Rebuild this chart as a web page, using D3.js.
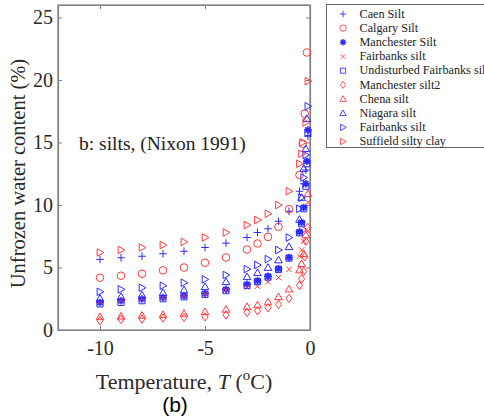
<!DOCTYPE html>
<html>
<head>
<meta charset="utf-8">
<script src="https://cdn.jsdelivr.net/npm/d3@7"></script>
<style>
  body { margin: 0; background: #fff; }
  svg text { font-family: "Liberation Serif", "Times New Roman", serif; }
</style>
</head>
<body>
<div id="chart"></div>
<script>
// DATA: temperature (deg C) and unfrozen water content (%) per soil
const caenT = [-10,-9,-8,-7,-6,-5,-4,-3,-2.5,-2,-1.5,-1,-0.5,-0.3,-0.2,-0.1];
const caenW = [5.65,5.78,5.9,6.1,6.3,6.6,6.95,7.4,7.8,8.1,8.7,9.5,11.1,11.7,12.8,15.5];

const calgaryT = [-10,-9,-8,-7,-6,-5,-4,-3,-2.5,-2,-1.5,-1,-0.5,-0.35,-0.25,-0.15];
const calgaryW = [4.18,4.34,4.5,4.77,5.0,5.38,5.8,6.44,6.92,7.45,8.25,9.66,12.4,14.9,17.3,22.2];

const manchesterT = [-10,-9,-8,-7,-6,-5,-4,-3,-2.5,-2,-1.5,-1,-0.5,-0.4,-0.3,-0.2,-0.15,-0.1];
const manchesterW = [2.2,2.34,2.48,2.6,2.74,2.93,3.25,3.65,3.94,4.3,4.9,5.8,7.85,8.6,9.8,11.7,13.5,16.0];

const fairbanksXT = [-10,-9,-8,-7,-6,-5,-4,-3,-2.5,-2,-1.5,-1,-0.5,-0.4,-0.3,-0.2,-0.1];
const fairbanksXW = [2.26,2.4,2.5,2.6,2.75,2.9,3.2,3.4,3.5,3.86,4.2,4.85,5.9,6.4,7.1,8.0,10.2];

const undisturbedT = [-10,-9,-8,-7,-6,-5,-4,-3,-2.5,-2,-1.5,-1,-0.5,-0.4,-0.3,-0.2,-0.15,-0.1];
const undisturbedW = [2.08,2.2,2.34,2.5,2.66,2.85,3.14,3.57,3.86,4.23,4.85,5.75,7.77,8.5,9.7,11.5,13.3,15.8];

const manchester2T = [-10,-9,-8,-7,-6,-5,-4,-3,-2.5,-2,-1.5,-1,-0.5,-0.4,-0.3,-0.25,-0.2,-0.1];
const manchester2W = [0.75,0.85,0.88,0.96,1.01,1.06,1.2,1.41,1.54,1.78,2.05,2.53,3.57,4.1,4.69,5.86,7.1,8.2];

const chenaT = [-10,-9,-8,-7,-6,-5,-4,-3,-2.5,-2,-1.5,-1,-0.5,-0.4,-0.3,-0.2,-0.1];
const chenaW = [1.06,1.1,1.17,1.22,1.33,1.46,1.65,1.86,2.0,2.24,2.66,3.27,4.8,5.3,6.1,7.6,10.9];

const niagaraT = [-10,-9,-8,-7,-6,-5,-4,-3,-2.5,-2,-1.5,-1,-0.5,-0.4,-0.3,-0.2,-0.15];
const niagaraW = [2.53,2.66,2.8,2.98,3.2,3.46,3.86,4.26,4.58,5.0,5.6,6.66,8.84,10.6,12.9,14.5,16.9];

const fairbanksTriT = [-10,-9,-8,-7,-6,-5,-4,-3,-2.5,-2,-1.5,-1,-0.5,-0.4,-0.3,-0.2,-0.1];
const fairbanksTriW = [3.06,3.25,3.38,3.54,3.78,4.05,4.4,4.87,5.2,5.67,6.4,7.4,9.7,10.6,12.2,14.0,17.9];

const suffieldT = [-10,-9,-8,-7,-6,-5,-4,-3,-2.5,-2,-1.5,-1,-0.5,-0.4,-0.35,-0.2,-0.1];
const suffieldW = [6.2,6.4,6.6,6.8,7.05,7.4,7.8,8.4,8.8,9.3,10.0,11.1,13.3,14.1,15.0,16.6,19.9];

const seriesNames = ["Caen Silt","Calgary Silt","Manchester Silt","Fairbanks silt",
  "Undisturbed Fairbanks silt","Manchester silt2","Chena silt","Niagara silt",
  "Fairbanks silt","Suffield silty clay"];
const seriesT = [caenT, calgaryT, manchesterT, fairbanksXT, undisturbedT,
  manchester2T, chenaT, niagaraT, fairbanksTriT, suffieldT];
const seriesW = [caenW, calgaryW, manchesterW, fairbanksXW, undisturbedW,
  manchester2W, chenaW, niagaraW, fairbanksTriW, suffieldW];
const seriesMarker = ["plus","circle","asterisk","cross","square","diamond",
  "triUp","triUp","triRight","triRight"];
const seriesColor = ["b","r","b","r","b","r","r","b","b","r"];

const xTicks = [-10, -5, 0];
const yTicks = [0, 5, 10, 15, 20, 25];

// 1: SVG
const W = 484, H = 420;
const svg = d3.select("#chart").append("svg")
  .attr("width", W).attr("height", H);

const serif = "'Liberation Serif', 'Times New Roman', serif";
const colors = { b: "#2b2bff", r: "#ff3b3b" };

const x = d3.scaleLinear().domain([-12, 0]).range([58, 310]);
const y = d3.scaleLinear().domain([0, 26]).range([330, 5]);

// marker path strings, centred at 0,0
function markerPath(type) {
  const r = 3.8;
  switch (type) {
    case "plus": return `M${-r},0H${r}M0,${-r}V${r}`;
    case "cross": { const a = r * 0.72; return `M${-a},${-a}L${a},${a}M${-a},${a}L${a},${-a}`; }
    case "asterisk": { const a = r * 0.7; return `M${-r},0H${r}M0,${-r}V${r}M${-a},${-a}L${a},${a}M${-a},${a}L${a},${-a}`; }
    case "circle": return d3.arc()({ innerRadius: 0, outerRadius: r, startAngle: 0, endAngle: 2 * Math.PI });
    case "square": { const a = r * 0.8; return `M${-a},${-a}H${a}V${a}H${-a}Z`; }
    case "diamond": return `M0,${-r * 1.1}L${r * 0.8},0L0,${r * 1.1}L${-r * 0.8},0Z`;
    case "triUp": return `M0,${-r}L${r},${r * 0.75}L${-r},${r * 0.75}Z`;
    case "triRight": return `M${r},0L${-r * 0.75},${-r}L${-r * 0.75},${r}Z`;
  }
}

// 2: AXES BOX
const axisColor = "#808080";
svg.append("rect")
  .attr("x", x(-12)).attr("y", y(26))
  .attr("width", x(0) - x(-12)).attr("height", y(0) - y(26))
  .attr("fill", "none").attr("stroke", axisColor).attr("stroke-width", 1.2);

const bottomAxis = svg.append("g")
  .attr("transform", `translate(0,${y(0)})`)
  .call(d3.axisBottom(x).tickValues(xTicks).tickSizeInner(-4).tickSizeOuter(0).tickPadding(11));
const topAxis = svg.append("g")
  .attr("transform", `translate(0,${y(26)})`)
  .call(d3.axisTop(x).tickValues(xTicks).tickSizeInner(-4).tickSizeOuter(0).tickFormat(""));
const leftAxis = svg.append("g")
  .attr("transform", `translate(${x(-12)},0)`)
  .call(d3.axisLeft(y).tickValues(yTicks).tickSizeInner(-4).tickSizeOuter(0).tickPadding(5));
const rightAxis = svg.append("g")
  .attr("transform", `translate(${x(0)},0)`)
  .call(d3.axisRight(y).tickValues(yTicks).tickSizeInner(-4).tickSizeOuter(0).tickFormat(""));

[bottomAxis, topAxis, leftAxis, rightAxis].forEach(g => {
  g.attr("font-family", null).attr("font-size", null);
  g.select(".domain").attr("stroke", axisColor).attr("stroke-width", 1.2);
  g.selectAll(".tick line").attr("stroke", axisColor);
  g.selectAll(".tick text")
    .attr("fill", "#2a2a2a")
    .style("font-family", serif)
    .style("font-size", "20px");
});
bottomAxis.selectAll(".tick text").text(d => d < 0 ? "-" + Math.abs(d) : d);

// 3: POINTS
seriesNames.forEach((name, i) => {
  const pts = seriesT[i].map((t, k) => ({ t: t, w: seriesW[i][k] }));
  svg.append("g")
    .selectAll("path")
    .data(pts)
    .enter()
    .append("path")
    .attr("d", markerPath(seriesMarker[i]))
    .attr("transform", d => `translate(${x(d.t)},${y(d.w)})`)
    .attr("fill", "none")
    .attr("stroke", colors[seriesColor[i]])
    .attr("stroke-width", seriesMarker[i] === "asterisk" ? 1.6 : 1);
});

// 4: LEGEND
const legend = svg.append("g");
legend.append("rect")
  .attr("x", 326.5).attr("y", 4.5).attr("width", 180).attr("height", 143)
  .attr("fill", "#fff").attr("stroke", "#666").attr("stroke-width", 1);
seriesNames.forEach((name, i) => {
  const ly = 14 + i * 14.17;
  legend.append("path")
    .attr("d", markerPath(seriesMarker[i]))
    .attr("transform", `translate(343,${ly}) scale(0.85)`)
    .attr("fill", "none")
    .attr("stroke", colors[seriesColor[i]])
    .attr("stroke-width", seriesMarker[i] === "asterisk" ? 1.6 : 1);
  legend.append("text")
    .attr("x", 359.5).attr("y", ly + 3.8)
    .attr("fill", "#222")
    .style("font-family", serif)
    .style("font-size", "12.2px")
    .text(name);
});

// 5: LABELS
svg.append("text")
  .attr("x", 79).attr("y", 150)
  .attr("fill", "#222")
  .style("font-family", serif)
  .style("font-size", "19.5px")
  .text("b: silts, (Nixon 1991)");

svg.append("text")
  .attr("transform", "rotate(-90)")
  .attr("x", -173.5).attr("y", 25)
  .attr("text-anchor", "middle")
  .attr("fill", "#2a2a2a")
  .style("font-family", serif)
  .style("font-size", "20.5px")
  .text("Unfrozen water content (%)");

const xl = svg.append("text")
  .attr("x", 184).attr("y", 389)
  .attr("text-anchor", "middle")
  .attr("fill", "#2a2a2a")
  .style("font-family", serif)
  .style("font-size", "22px");
xl.append("tspan").text("Temperature, ");
xl.append("tspan").style("font-style", "italic").text("T");
xl.append("tspan").text(" (");
xl.append("tspan").attr("dy", -9).style("font-size", "15px").text("o");
xl.append("tspan").attr("dy", 9).text("C)");

svg.append("text")
  .attr("x", 175).attr("y", 412)
  .attr("text-anchor", "middle")
  .attr("fill", "#000")
  .style("font-family", "'Liberation Sans', Arial, sans-serif")
  .style("font-size", "21px")
  .text("(b)");
</script>
</body>
</html>
